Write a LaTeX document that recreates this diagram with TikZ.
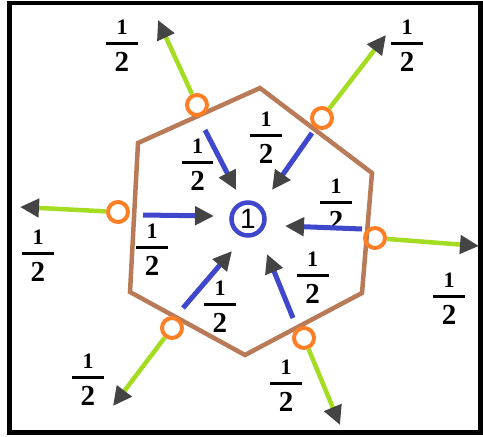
\documentclass[tikz,border=0pt]{standalone}
\usepackage{fontspec}
\setmainfont{Liberation Serif}
\newfontfamily\sansf{Liberation Sans}
\usetikzlibrary{arrows.meta}
\definecolor{hexbrown}{HTML}{B97A57}
\definecolor{ringorange}{HTML}{FF7F27}
\definecolor{outgreen}{HTML}{A4DC22}
\definecolor{inblue}{HTML}{3F48CC}
\definecolor{tipgray}{HTML}{444444}
\newcommand{\halffrac}{\vbox{\offinterlineskip
  \hbox to 32pt{\hss\fontsize{22}{22}\selectfont\bfseries 1\hss}%
  \kern7pt\hrule height 3pt\kern8pt
  \hbox to 32pt{\hss\fontsize{29}{29}\selectfont\bfseries 2\hss}}}
\tikzset{
  hexline/.style={draw=hexbrown, line width=4.5pt, line join=miter},
  ring/.style={circle, draw=ringorange, line width=4pt, minimum size=20pt, inner sep=0pt},
  outarrow/.style={draw=outgreen, line width=4.5pt, -{Triangle[length=19pt,width=18pt,color=tipgray]}},
  inarrow/.style={draw=inblue, line width=5pt, -{Triangle[length=19pt,width=18pt,color=tipgray]}},
  fraclabel/.style={inner sep=0pt, yshift=-2.85pt},
  hub/.style={circle, draw=inblue, line width=4.5pt, minimum size=33pt, inner sep=0pt,
    font=\sansf\fontsize{28}{28}\selectfont}
}
\begin{document}
\begin{tikzpicture}[x=1pt,y=-1pt]
\useasboundingbox (0,0) rectangle (483,437);
\fill[white] (0,0) rectangle (483,437);
\draw[line width=4.5pt] (9.5,3) rectangle (480.5,432.5);
% hexagon
\coordinate (h1) at (260,88);
\coordinate (h2) at (372,173);
\coordinate (h3) at (362,293);
\coordinate (h4) at (245,355);
\coordinate (h5) at (130,292);
\coordinate (h6) at (138,143);
\draw[hexline] (h1) -- (h2) -- (h3) -- (h4) -- (h5) -- (h6) -- cycle;
% rings
\node[ring] (o1) at (197,105) {};
\node[ring] (o2) at (322,118) {};
\node[ring] (o3) at (118,212) {};
\node[ring] (o4) at (375,238) {};
\node[ring] (o5) at (172,328) {};
\node[ring] (o6) at (304,338) {};
% outer tips
\coordinate (g1) at (158,20);
\coordinate (g2) at (386,35);
\coordinate (g3) at (20,207);
\coordinate (g4) at (479,246);
\coordinate (g5) at (113,406);
\coordinate (g6) at (340,425);
\draw[outarrow] (o1) -- (g1);
\draw[outarrow] (o2) -- (g2);
\draw[outarrow] (o3) -- (g3);
\draw[outarrow] (o4) -- (g4);
\draw[outarrow] (o5) -- (g5);
\draw[outarrow] (o6) -- (g6);
% hub
\node[hub] (c) at (248,219) {1};
% labels
\node[fraclabel] (l1) at (122,43) {\halffrac};
\node[fraclabel] (l2) at (407,43) {\halffrac};
\node[fraclabel] (l3) at (38,253) {\halffrac};
\node[fraclabel] (l4) at (449,296) {\halffrac};
\node[fraclabel] (l5) at (88,377) {\halffrac};
\node[fraclabel] (l6) at (286,383) {\halffrac};
\node[fraclabel] (l7) at (197.5,162) {\halffrac};
\node[fraclabel] (l8) at (266,135) {\halffrac};
\node[fraclabel] (l9) at (336,202) {\halffrac};
\node[fraclabel] (l10) at (152,247) {\halffrac};
\node[fraclabel] (l11) at (220,304) {\halffrac};
\node[fraclabel] (l12) at (312.5,275) {\halffrac};
% inner arrows
\coordinate (s1) at (205,130);  \coordinate (t1) at (236,190);
\coordinate (s2) at (312,133);  \coordinate (t2) at (272,190);
\coordinate (s3) at (143,215);  \coordinate (t3) at (214,216);
\coordinate (s4) at (362,229);  \coordinate (t4) at (285,226);
\coordinate (s5) at (183,308);  \coordinate (t5) at (232,251);
\coordinate (s6) at (293,318);  \coordinate (t6) at (267,254);
\draw[inarrow] (s1) -- (t1);
\draw[inarrow] (s2) -- (t2);
\draw[inarrow] (s3) -- (t3);
\draw[inarrow] (s4) -- (t4);
\draw[inarrow] (s5) -- (t5);
\draw[inarrow] (s6) -- (t6);
\end{tikzpicture}
\end{document}
